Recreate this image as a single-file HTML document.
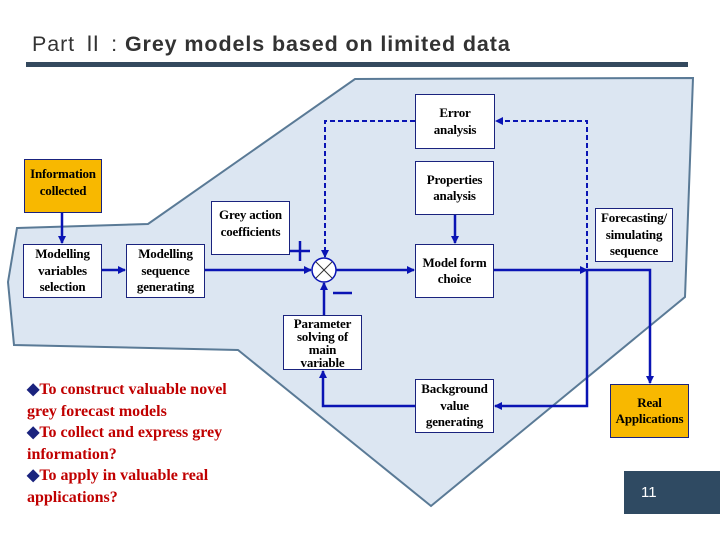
<!DOCTYPE html>
<html><head><meta charset="utf-8"><style>
body{margin:0;width:720px;height:540px;background:#fff;position:relative;overflow:hidden;font-family:"Liberation Serif",serif}
.b{position:absolute;border:1.5px solid #1a237e;background:#fff;box-sizing:border-box;display:flex;align-items:center;justify-content:center;text-align:center;font-weight:bold;font-size:13px;line-height:16.5px;color:#000;letter-spacing:-0.2px}
.o{background:#f8b800}
</style></head><body>
<div style="position:absolute;left:32px;top:27px;font-family:'Liberation Sans','Noto Sans CJK SC',sans-serif;font-size:21.5px;letter-spacing:0.9px;color:#333;white-space:nowrap">Part Ⅱ : <b>Grey models based on limited data</b></div>
<div style="position:absolute;left:26px;top:62px;width:662px;height:5px;background:#34495e"></div>
<svg width="720" height="540" style="position:absolute;left:0;top:0">
<defs><marker id="a" markerWidth="8" markerHeight="8" refX="7" refY="4" orient="auto" markerUnits="userSpaceOnUse"><path d="M0,0 L8,4 L0,8z" fill="#0a14b4"/></marker></defs>
<polygon points="17,228 148,224 355,79 693,78 685,297 431,506 238,350 14,345 8,282" fill="#dce6f2" stroke="#5a7a96" stroke-width="2"/>
<g stroke="#0a14b4" stroke-width="2.5" fill="none">
<line x1="62" y1="213" x2="62" y2="243" marker-end="url(#a)"/>
<line x1="101" y1="270" x2="125" y2="270" marker-end="url(#a)"/>
<line x1="204" y1="270" x2="311" y2="270" marker-end="url(#a)"/>
<line x1="336" y1="270" x2="414" y2="270" marker-end="url(#a)"/>
<line x1="455" y1="215" x2="455" y2="243" marker-end="url(#a)"/>
<line x1="494" y1="270" x2="587" y2="270" marker-end="url(#a)"/>
<polyline points="587,270 650,270 650,383" marker-end="url(#a)"/>
<polyline points="587,270 587,406 495,406" marker-end="url(#a)"/>
<polyline points="415,406 323,406 323,371" marker-end="url(#a)"/>
<line x1="324" y1="315" x2="324" y2="283" marker-end="url(#a)"/>
<line x1="290" y1="251" x2="310" y2="251"/><line x1="300" y1="241" x2="300" y2="261"/>
<line x1="333" y1="293" x2="352" y2="293"/>
</g>
<g stroke="#0a14b4" stroke-width="2" fill="none" stroke-dasharray="5,3">
<polyline points="415,121 325,121 325,257" marker-end="url(#a)"/>
<polyline points="587,268 587,121 496,121" marker-end="url(#a)"/>
</g>
<circle cx="324" cy="270" r="12" fill="#fff" stroke="#0a14b4" stroke-width="1.5"/>
<line x1="316" y1="262" x2="332" y2="278" stroke="#333"/><line x1="332" y1="262" x2="316" y2="278" stroke="#333"/>
</svg>
<div class="b o" style="left:24px;top:159px;width:78px;height:54px;align-items:flex-start;padding-top:6px">Information<br>collected</div>
<div class="b" style="left:23px;top:244px;width:79px;height:54px">Modelling<br>variables<br>selection</div>
<div class="b" style="left:126px;top:244px;width:79px;height:54px">Modelling<br>sequence<br>generating</div>
<div class="b" style="left:211px;top:201px;width:79px;height:54px;align-items:flex-start;padding-top:5px">Grey action<br>coefficients</div>
<div class="b" style="left:283px;top:315px;width:79px;height:55px;line-height:13px">Parameter<br>solving of<br>main<br>variable</div>
<div class="b" style="left:415px;top:94px;width:80px;height:55px">Error<br>analysis</div>
<div class="b" style="left:415px;top:161px;width:79px;height:54px">Properties<br>analysis</div>
<div class="b" style="left:415px;top:244px;width:79px;height:54px">Model form<br>choice</div>
<div class="b" style="left:595px;top:208px;width:78px;height:54px">Forecasting/<br>simulating<br>sequence</div>
<div class="b" style="left:415px;top:379px;width:79px;height:54px">Background<br>value<br>generating</div>
<div class="b o" style="left:610px;top:384px;width:79px;height:54px">Real<br>Applications</div>
<div style="position:absolute;left:27px;top:379px;width:250px;font-weight:bold;font-size:16px;line-height:21.6px;color:#c00000"><span style="color:#1a237e">◆</span>To construct valuable novel<br>grey forecast models<br><span style="color:#1a237e">◆</span>To collect and express grey<br>information?<br><span style="color:#1a237e">◆</span>To apply in valuable real<br>applications?</div>
<div style="position:absolute;left:624px;top:471px;width:96px;height:43px;background:#2f4a62;color:#fff;font-family:'Liberation Sans',sans-serif;font-size:15px;line-height:43px;text-indent:17px">11</div>
</body></html>
